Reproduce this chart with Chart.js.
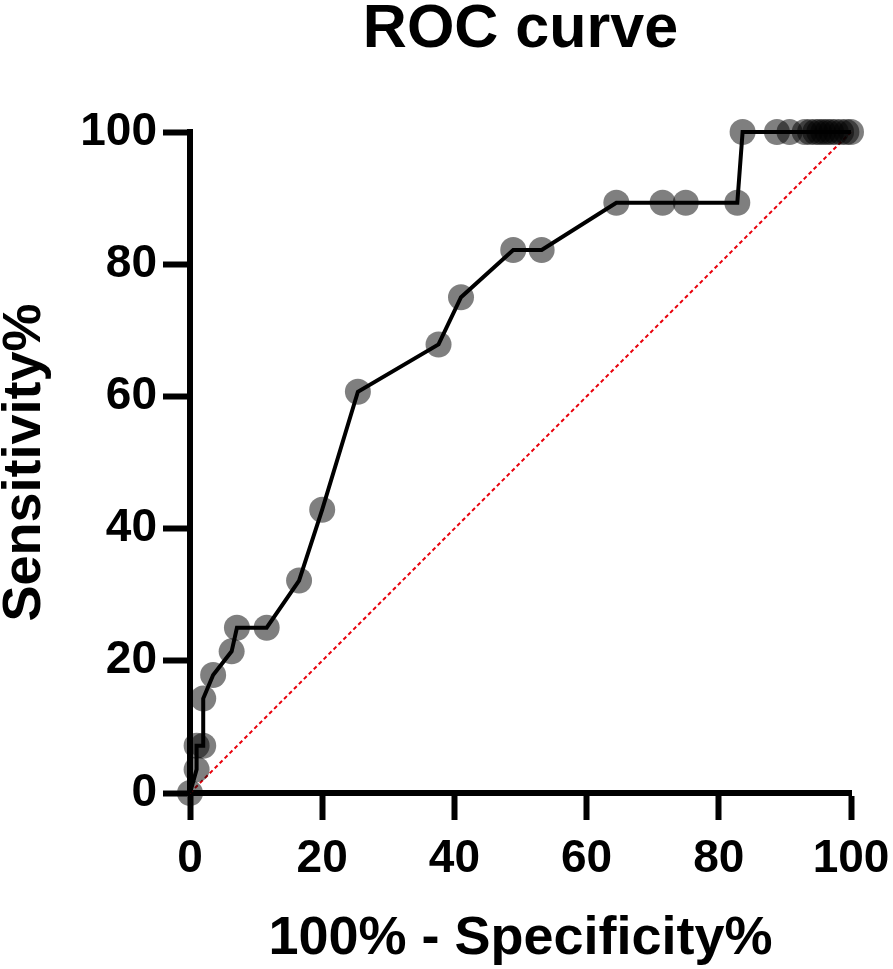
<!DOCTYPE html>
<html>
<head>
<meta charset="utf-8">
<script src="https://cdn.jsdelivr.net/npm/chart.js@4.4.1/dist/chart.umd.min.js"></script>
<style>
  html, body { margin: 0; padding: 0; background: #fff; }
</style>
</head>
<body>
<canvas id="rocChart" width="893" height="969"></canvas>
<script>
// 100% - Specificity% (x) and Sensitivity% (y)
const fpr = [0, 1.0, 1.0, 2.0, 2.0, 3.5, 6.3, 7.1, 11.6, 16.5, 20.0, 25.4, 37.6, 41.0, 48.9, 53.2,
             64.5, 71.5, 75.0, 82.8, 83.6, 88.8, 90.7, 93.0, 93.8, 94.6, 95.2, 95.8, 96.4, 97.0, 97.7, 98.5, 99.3, 100];
const tpr = [0, 3.57, 7.14, 7.14, 14.29, 17.86, 21.43, 25.0, 25.0, 32.14, 42.86, 60.71, 67.86, 75.0, 82.14, 82.14,
             89.29, 89.29, 89.29, 89.29, 100, 100, 100, 100, 100, 100, 100, 100, 100, 100, 100, 100, 100, 100];
const refX = [0, 100];
const refY = [0, 100];
const tickValues = [0, 20, 40, 60, 80, 100];

const chartTitle = 'ROC curve';
const FONT = "'Liberation Sans', Arial, sans-serif";

// title centred over the plot area, like the original
const titlePlugin = {
    id: 'plotTitle',
    afterDraw(chart) {
        const ctx = chart.ctx;
        const area = chart.chartArea;
        ctx.save();
        ctx.font = 'bold 61px ' + FONT;
        ctx.fillStyle = '#000';
        ctx.textAlign = 'center';
        ctx.textBaseline = 'alphabetic';
        ctx.fillText(chartTitle, (area.left + area.right) / 2, 47);
        ctx.restore();
    }
};

const rocData = fpr.map((x, i) => ({ x: x, y: tpr[i] }));
const refData = refX.map((x, i) => ({ x: x, y: refY[i] }));

const axisCommon = {
    type: 'linear',
    min: 0,
    max: 100,
    afterBuildTicks: (scale) => {
        scale.ticks = tickValues.map(v => ({ value: v }));
    },
    border: { display: true, color: '#000', width: 6 },
    grid: {
        drawOnChartArea: false,
        drawTicks: true,
        tickLength: 27,
        tickWidth: 6,
        tickColor: '#000'
    }
};

new Chart(document.getElementById('rocChart').getContext('2d'), {
    type: 'scatter',
    data: {
        datasets: [
            {
                label: 'Reference',
                data: refData,
                showLine: true,
                borderColor: '#e8000b',
                borderWidth: 2,
                borderDash: [4, 3],
                pointRadius: 0,
                clip: false,
                order: 1
            },
            {
                label: 'ROC',
                data: rocData,
                showLine: true,
                tension: 0,
                borderColor: '#000',
                borderWidth: 4,
                pointRadius: 13,
                pointBorderWidth: 0,
                pointBackgroundColor: 'rgba(0,0,0,0.5)',
                pointBorderColor: 'rgba(0,0,0,0)',
                clip: false,
                order: 0
            }
        ]
    },
    options: {
        responsive: false,
        animation: false,
        devicePixelRatio: 1,
        layout: { padding: { top: 132, right: 42, left: 0, bottom: 0 } },
        plugins: {
            legend: { display: false },
            tooltip: { enabled: false }
        },
        scales: {
            x: Object.assign({}, axisCommon, {
                position: 'bottom',
                afterFit: (scale) => {
                    scale.height = 176;
                    scale.paddingLeft = 0;
                    scale.paddingRight = 0;
                },
                ticks: {
                    color: '#000',
                    padding: 12,
                    maxRotation: 0,
                    font: { family: FONT, size: 46, weight: 'bold' }
                },
                title: {
                    display: true,
                    text: '100% - Specificity%',
                    color: '#000',
                    padding: { top: 0, bottom: 3 },
                    font: { family: FONT, size: 54, weight: 'bold', lineHeight: 1.0 }
                }
            }),
            y: Object.assign({}, axisCommon, {
                position: 'left',
                afterFit: (scale) => {
                    scale.width = 190;
                    scale.paddingTop = 0;
                    scale.paddingBottom = 0;
                },
                ticks: {
                    color: '#000',
                    padding: 6,
                    font: { family: FONT, size: 46, weight: 'bold' }
                },
                title: {
                    display: true,
                    text: 'Sensitivity%',
                    color: '#000',
                    padding: { top: 0, bottom: 0 },
                    font: { family: FONT, size: 54, weight: 'bold', lineHeight: 0.92 }
                }
            })
        }
    },
    plugins: [titlePlugin]
});
</script>
</body>
</html>
